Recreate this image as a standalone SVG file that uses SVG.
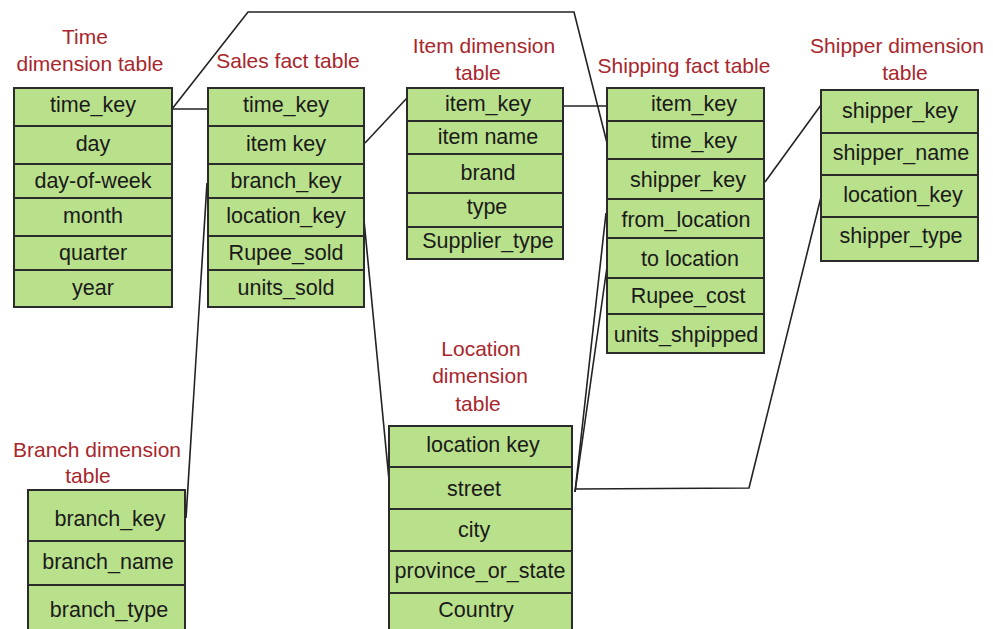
<svg xmlns="http://www.w3.org/2000/svg" width="993" height="629" viewBox="0 0 993 629">
<style>
.tb{fill:#b9e08a;stroke:#2b2b2b;stroke-width:2}
.dv{stroke:#2b2b2b;stroke-width:2}
.t{font-family:"Liberation Sans",Arial,sans-serif;font-size:21.5px;fill:#1a1a1a;text-anchor:middle}
.lb{font-family:"Liberation Sans",Arial,sans-serif;font-size:21px;fill:#a8262c;text-anchor:middle}
.cn{fill:none;stroke:#222;stroke-width:1.6}
</style>
<rect width="993" height="629" fill="#fff"/>

<g id="connectors">
<polyline class="cn" points="172,109 208,109"/>
<polyline class="cn" points="172,109 248,12 574,12 607,143"/>
<polyline class="cn" points="365,143 407,98"/>
<polyline class="cn" points="563,106 607,106"/>
<polyline class="cn" points="207,183 186,518"/>
<polyline class="cn" points="364,220 389,480"/>
<polyline class="cn" points="575,492 606,213"/>
<polyline class="cn" points="575,492 607,267"/>
<polyline class="cn" points="765,182 821,105"/>
<polyline class="cn" points="821,197 749,488 575,489"/>
</g>

<g id="time-label">
<text class="lb" x="85" y="44">Time</text>
<text class="lb" x="90" y="71">dimension table</text>
</g>
<g id="time-table">
<rect class="tb" x="14" y="88" width="158" height="219"/>
<line class="dv" x1="14" y1="126" x2="172" y2="126"/>
<line class="dv" x1="14" y1="164" x2="172" y2="164"/>
<line class="dv" x1="14" y1="198" x2="172" y2="198"/>
<line class="dv" x1="14" y1="236" x2="172" y2="236"/>
<line class="dv" x1="14" y1="270" x2="172" y2="270"/>
<text class="t" x="93" y="112">time_key</text>
<text class="t" x="93" y="151">day</text>
<text class="t" x="93" y="188">day-of-week</text>
<text class="t" x="93" y="223">month</text>
<text class="t" x="93" y="260">quarter</text>
<text class="t" x="93" y="295">year</text>
</g>

<g id="sales-label">
<text class="lb" x="288" y="68">Sales fact table</text>
</g>
<g id="sales-table">
<rect class="tb" x="208" y="88" width="156" height="219"/>
<line class="dv" x1="208" y1="126" x2="364" y2="126"/>
<line class="dv" x1="208" y1="164" x2="364" y2="164"/>
<line class="dv" x1="208" y1="198" x2="364" y2="198"/>
<line class="dv" x1="208" y1="236" x2="364" y2="236"/>
<line class="dv" x1="208" y1="270" x2="364" y2="270"/>
<text class="t" x="286" y="112">time_key</text>
<text class="t" x="286" y="151">item key</text>
<text class="t" x="286" y="188">branch_key</text>
<text class="t" x="286" y="223">location_key</text>
<text class="t" x="286" y="260">Rupee_sold</text>
<text class="t" x="286" y="295">units_sold</text>
</g>

<g id="item-label">
<text class="lb" x="484" y="53">Item dimension</text>
<text class="lb" x="478" y="80">table</text>
</g>
<g id="item-table">
<rect class="tb" x="407" y="88" width="156" height="171"/>
<line class="dv" x1="407" y1="121" x2="563" y2="121"/>
<line class="dv" x1="407" y1="154" x2="563" y2="154"/>
<line class="dv" x1="407" y1="193" x2="563" y2="193"/>
<line class="dv" x1="407" y1="227" x2="563" y2="227"/>
<text class="t" x="488" y="111">item_key</text>
<text class="t" x="488" y="144">item name</text>
<text class="t" x="488" y="180">brand</text>
<text class="t" x="487" y="214">type</text>
<text class="t" x="488" y="248">Supplier_type</text>
</g>

<g id="shipping-label">
<text class="lb" x="684" y="73">Shipping fact table</text>
</g>
<g id="shipping-table">
<rect class="tb" x="607" y="88" width="157" height="265"/>
<line class="dv" x1="607" y1="121" x2="764" y2="121"/>
<line class="dv" x1="607" y1="159" x2="764" y2="159"/>
<line class="dv" x1="607" y1="199" x2="764" y2="199"/>
<line class="dv" x1="607" y1="238" x2="764" y2="238"/>
<line class="dv" x1="607" y1="278" x2="764" y2="278"/>
<line class="dv" x1="607" y1="314" x2="764" y2="314"/>
<text class="t" x="694" y="111">item_key</text>
<text class="t" x="694" y="148">time_key</text>
<text class="t" x="688" y="187">shipper_key</text>
<text class="t" x="686" y="227">from_location</text>
<text class="t" x="690" y="266">to location</text>
<text class="t" x="688" y="303">Rupee_cost</text>
<text class="t" x="686" y="342">units_shpipped</text>
</g>

<g id="shipper-label">
<text class="lb" x="897" y="53">Shipper dimension</text>
<text class="lb" x="905" y="80">table</text>
</g>
<g id="shipper-table">
<rect class="tb" x="821" y="90" width="157" height="171"/>
<line class="dv" x1="821" y1="133" x2="978" y2="133"/>
<line class="dv" x1="821" y1="175" x2="978" y2="175"/>
<line class="dv" x1="821" y1="217" x2="978" y2="217"/>
<text class="t" x="900" y="118">shipper_key</text>
<text class="t" x="901" y="160">shipper_name</text>
<text class="t" x="903" y="202">location_key</text>
<text class="t" x="901" y="243">shipper_type</text>
</g>

<g id="branch-label">
<text class="lb" x="97" y="457">Branch dimension</text>
<text class="lb" x="88" y="483">table</text>
</g>
<g id="branch-table">
<rect class="tb" x="28" y="490" width="157" height="150"/>
<line class="dv" x1="28" y1="541" x2="185" y2="541"/>
<line class="dv" x1="28" y1="585" x2="185" y2="585"/>
<text class="t" x="110" y="526">branch_key</text>
<text class="t" x="108" y="569">branch_name</text>
<text class="t" x="109" y="617">branch_type</text>
</g>

<g id="location-label">
<text class="lb" x="481" y="356">Location</text>
<text class="lb" x="480" y="383">dimension</text>
<text class="lb" x="478" y="411">table</text>
</g>
<g id="location-table">
<rect class="tb" x="389" y="426" width="183" height="214"/>
<line class="dv" x1="389" y1="467" x2="572" y2="467"/>
<line class="dv" x1="389" y1="509" x2="572" y2="509"/>
<line class="dv" x1="389" y1="551" x2="572" y2="551"/>
<line class="dv" x1="389" y1="593" x2="572" y2="593"/>
<text class="t" x="483" y="452">location key</text>
<text class="t" x="474" y="496">street</text>
<text class="t" x="474" y="537">city</text>
<text class="t" x="480" y="578">province_or_state</text>
<text class="t" x="476" y="617">Country</text>
</g>
</svg>
